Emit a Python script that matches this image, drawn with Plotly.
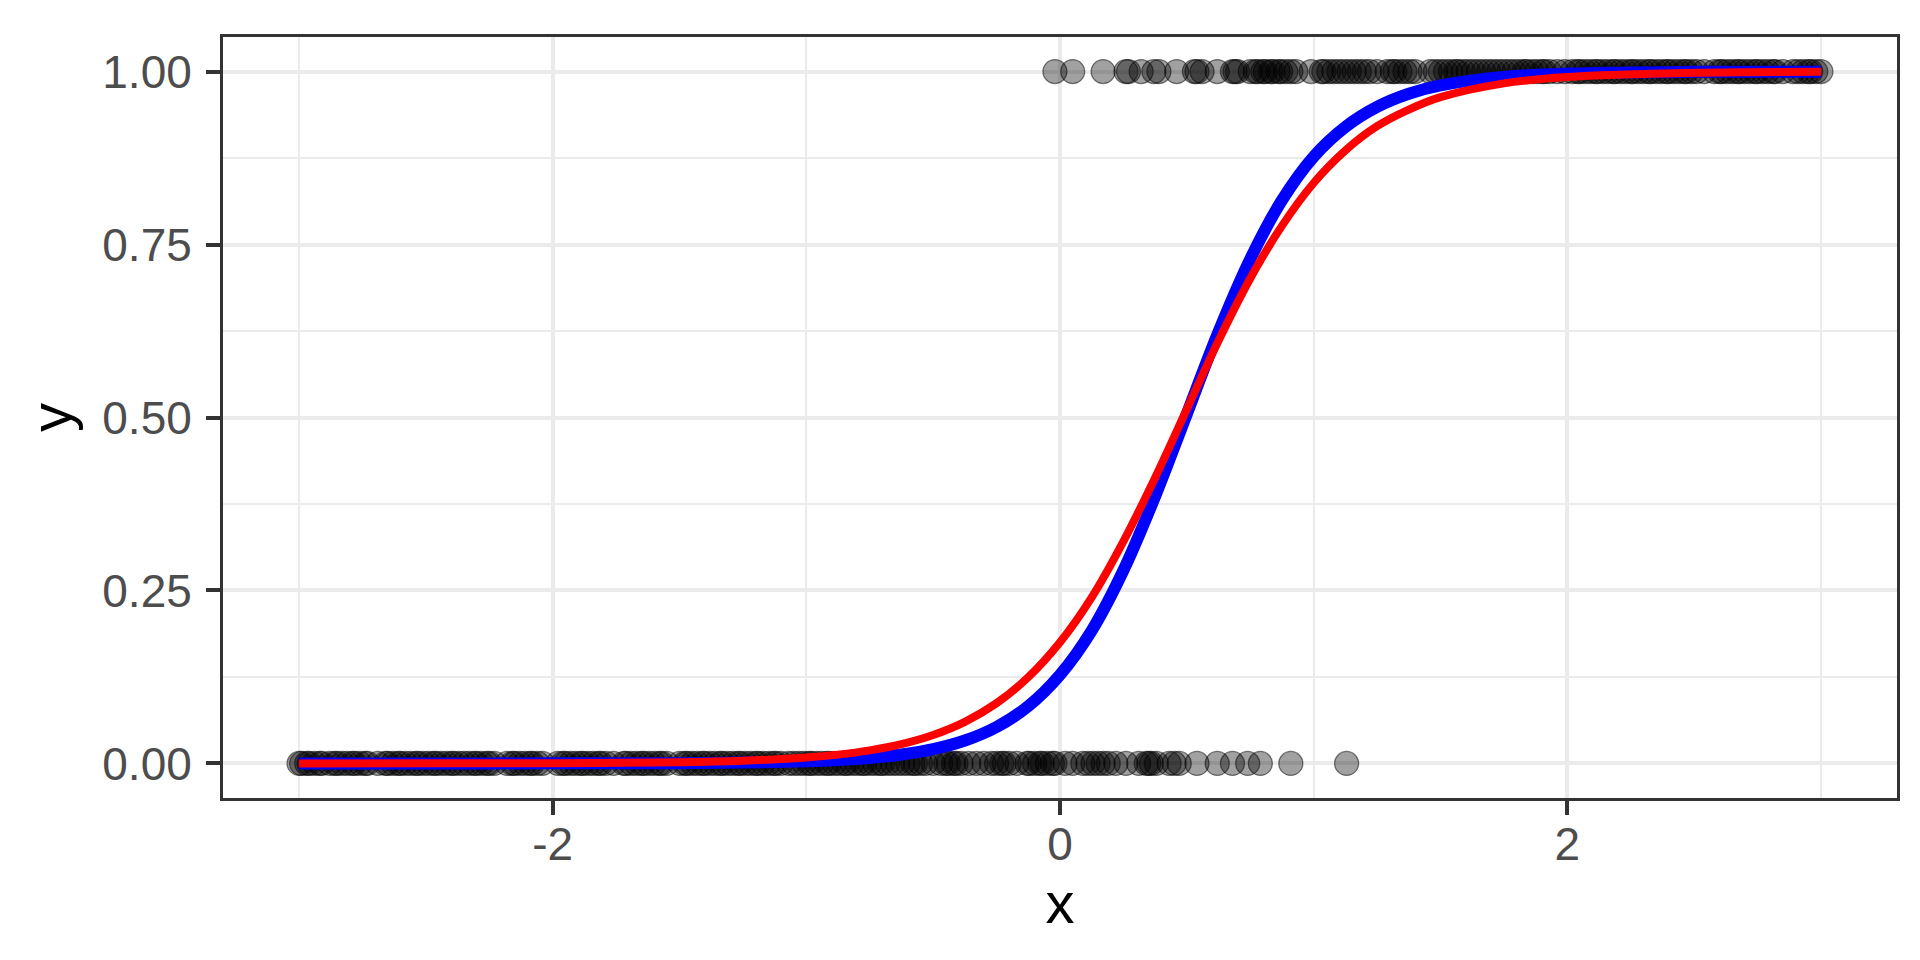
import plotly.graph_objects as go

# ---- data ----
# x positions of observations with y = 0
x_y0 = [-3.00, -2.99, -2.97, -2.96, -2.94, -2.92, -2.91, -2.88, -2.86, -2.85, -2.83, -2.81,
        -2.79, -2.78, -2.76, -2.74, -2.73, -2.69, -2.66, -2.65, -2.63, -2.61, -2.60, -2.58,
        -2.56, -2.54, -2.53, -2.51, -2.49, -2.47, -2.46, -2.44, -2.42, -2.40, -2.39, -2.37,
        -2.35, -2.33, -2.31, -2.30, -2.28, -2.26, -2.25, -2.23, -2.18, -2.16, -2.15, -2.13,
        -2.11, -2.09, -2.08, -2.06, -2.04, -1.98, -1.96, -1.95, -1.93, -1.91, -1.89, -1.88,
        -1.86, -1.84, -1.82, -1.81, -1.79, -1.76, -1.72, -1.71, -1.69, -1.67, -1.65, -1.64,
        -1.62, -1.60, -1.58, -1.57, -1.55, -1.50, -1.48, -1.47, -1.45, -1.43, -1.41, -1.40,
        -1.38, -1.36, -1.34, -1.33, -1.31, -1.29, -1.27, -1.26, -1.24, -1.22, -1.20, -1.19,
        -1.17, -1.15, -1.13, -1.12, -1.10, -1.07, -1.05, -1.03, -1.01, -0.99, -0.98, -0.96,
        -0.94, -0.92, -0.91, -0.89, -0.87, -0.85, -0.84, -0.82, -0.80, -0.78, -0.77, -0.75,
        -0.73, -0.71, -0.70, -0.68, -0.66, -0.64, -0.62, -0.60, -0.58, -0.57, -0.55, -0.53,
        -0.50, -0.47, -0.45, -0.44, -0.42, -0.41, -0.39, -0.36, -0.33, -0.30, -0.27, -0.25,
        -0.23, -0.22, -0.20, -0.17, -0.13, -0.12, -0.10, -0.08, -0.07, -0.05, -0.03, -0.02,
        0.02, 0.05, 0.09, 0.11, 0.13, 0.15, 0.17, 0.19, 0.22, 0.26, 0.31, 0.34, 0.35, 0.36,
        0.38, 0.43, 0.45, 0.47, 0.54, 0.62, 0.68, 0.74, 0.79, 0.91, 1.13]

# x positions of observations with y = 1
x_y1 = [-0.02, 0.05, 0.17, 0.26, 0.27, 0.32, 0.37, 0.39, 0.46, 0.53, 0.54, 0.56, 0.62,
        0.68, 0.69, 0.70, 0.75, 0.77, 0.78, 0.80, 0.81, 0.83, 0.84, 0.86, 0.87, 0.89, 0.91,
        0.93, 0.99, 1.03, 1.04, 1.06, 1.08, 1.10, 1.12, 1.14, 1.16, 1.18, 1.20, 1.22, 1.25,
        1.29, 1.31, 1.32, 1.34, 1.36, 1.38, 1.40, 1.46, 1.48, 1.50, 1.52, 1.54, 1.56, 1.57,
        1.59, 1.61, 1.63, 1.65, 1.67, 1.69, 1.71, 1.73, 1.75, 1.77, 1.79, 1.81, 1.83, 1.84,
        1.86, 1.88, 1.90, 1.91, 1.93, 1.96, 1.99, 2.02, 2.04, 2.05, 2.07, 2.09, 2.11, 2.12,
        2.14, 2.16, 2.18, 2.19, 2.21, 2.23, 2.25, 2.26, 2.28, 2.30, 2.32, 2.33, 2.35, 2.37,
        2.39, 2.40, 2.42, 2.44, 2.46, 2.47, 2.49, 2.51, 2.54, 2.58, 2.60, 2.61, 2.63, 2.65,
        2.67, 2.68, 2.70, 2.72, 2.74, 2.75, 2.77, 2.79, 2.81, 2.82, 2.85, 2.89, 2.91, 2.93,
        2.95, 2.96, 2.98, 3.00]

# fitted curves
curve_x = [-3.0, -2.5, -2.0, -1.5, -1.25, -1.0, -0.875, -0.75, -0.625, -0.5, -0.375, -0.25,
           -0.125, 0.0, 0.125, 0.25, 0.375, 0.5, 0.625, 0.75, 0.875, 1.0, 1.125, 1.25,
           1.375, 1.5, 1.75, 2.0, 2.5, 3.0]
blue_y = [0.0000, 0.0000, 0.0001, 0.0004, 0.0012, 0.0030, 0.0049, 0.0079, 0.0128, 0.0206,
          0.0331, 0.0527, 0.0828, 0.128, 0.192, 0.279, 0.386, 0.505, 0.624, 0.729, 0.814,
          0.877, 0.920, 0.949, 0.968, 0.980, 0.9924, 0.9971, 0.9996, 0.9999]
red_y = [0.0000, 0.0001, 0.0004, 0.0017, 0.0039, 0.0086, 0.0127, 0.0189, 0.0279, 0.0411,
         0.0601, 0.0871, 0.1246, 0.175, 0.240, 0.321, 0.413, 0.512, 0.611, 0.701, 0.777,
         0.839, 0.886, 0.921, 0.945, 0.963, 0.983, 0.9922, 0.9984, 0.9997]

y_ticks = [0.0, 0.25, 0.5, 0.75, 1.0]
y_tick_labels = ["0.00", "0.25", "0.50", "0.75", "1.00"]
x_ticks = [-2, 0, 2]
x_tick_labels = ["-2", "0", "2"]

FONT = "Liberation Sans, Arial, sans-serif"

fig = go.Figure()

marker = dict(size=24, color="rgba(0,0,0,0.37)",
              line=dict(color="rgba(0,0,0,0.5)", width=1.3))
fig.add_trace(go.Scatter(x=x_y0, y=[0] * len(x_y0), mode="markers", marker=marker,
                         hoverinfo="x+y"))
fig.add_trace(go.Scatter(x=x_y1, y=[1] * len(x_y1), mode="markers", marker=marker,
                         hoverinfo="x+y"))
fig.add_trace(go.Scatter(x=curve_x, y=blue_y, mode="lines",
                         line=dict(color="#0000FF", width=12, shape="spline", smoothing=1)))
fig.add_trace(go.Scatter(x=curve_x, y=red_y, mode="lines",
                         line=dict(color="#FF0000", width=8, shape="spline", smoothing=1)))

axis_common = dict(
    showline=True, mirror=True, linecolor="#333333", linewidth=3,
    ticks="outside", ticklen=14, tickwidth=4, tickcolor="#333333",
    showgrid=True, gridcolor="#EBEBEB", gridwidth=4, zeroline=False,
    tickfont=dict(family=FONT, size=46, color="#4D4D4D"),
)

fig.update_layout(
    width=1920, height=960,
    margin=dict(l=215, r=31, t=29, b=170),
    paper_bgcolor="white", plot_bgcolor="white",
    showlegend=False,
    font=dict(family=FONT),
    xaxis=dict(
        range=[-3.3, 3.3], tickvals=x_ticks, ticktext=x_tick_labels,
        minor=dict(dtick=1, tick0=-3, showgrid=True, gridcolor="#EBEBEB", gridwidth=2, ticks=""),
        title=dict(text="x", font=dict(family=FONT, size=58, color="black"), standoff=10),
        ticklabelstandoff=-10,
        **axis_common,
    ),
    yaxis=dict(
        range=[-0.05, 1.05], tickvals=y_ticks, ticktext=y_tick_labels,
        minor=dict(dtick=0.125, tick0=0, showgrid=True, gridcolor="#EBEBEB", gridwidth=2, ticks=""),
        title=dict(text="y", font=dict(family=FONT, size=58, color="black"), standoff=12),
        ticklabelstandoff=5,
        **axis_common,
    ),
)

fig.write_html("out.html")
